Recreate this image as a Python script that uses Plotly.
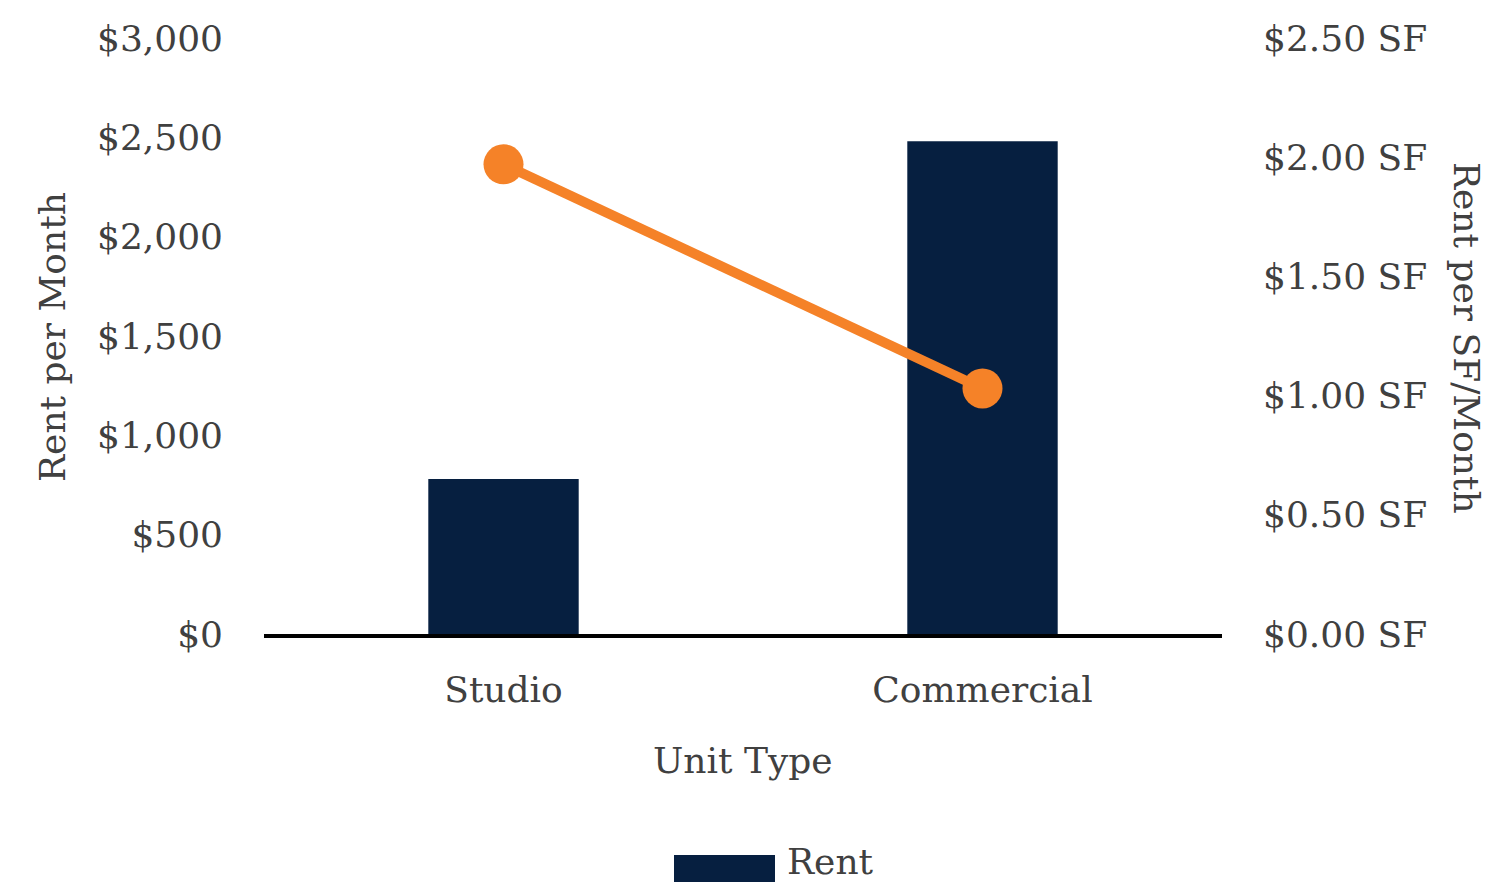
import plotly.graph_objects as go

# ---- data ----
unit_types = ["Studio", "Commercial"]
rent_per_month = [780, 2480]
rent_per_sf = [1.97, 1.03]

left_ticks = [0, 500, 1000, 1500, 2000, 2500, 3000]
left_tick_text = ["$0", "$500", "$1,000", "$1,500", "$2,000", "$2,500", "$3,000"]
right_ticks = [0, 0.5, 1.0, 1.5, 2.0, 2.5]
right_tick_text = ["$0.00 SF", "$0.50 SF", "$1.00 SF", "$1.50 SF", "$2.00 SF", "$2.50 SF"]

# ---- layout geometry (pixels) ----
W, H = 1512, 882
L, R, T, B = 264, 1222, 38, 634
PW, PH = R - L, B - T

def px_x(x):
    return (x - L) / PW

def px_y(y):
    return (B - y) / PH

FONT = "DejaVu Serif"
TXT = "#404040"
NAVY = "#061F40"
ORANGE = "#F58228"

fig = go.Figure()
fig.add_trace(go.Bar(
    x=unit_types, y=rent_per_month, name="Rent",
    marker=dict(color=NAVY, line=dict(width=0)),
    yaxis="y", showlegend=False,
))
fig.add_trace(go.Scatter(
    x=unit_types, y=rent_per_sf, name="Rent per SF",
    mode="lines+markers",
    line=dict(color=ORANGE, width=10),
    marker=dict(color=ORANGE, size=40),
    yaxis="y2", showlegend=False,
))

fig.update_layout(
    width=W, height=H,
    margin=dict(l=L, r=W - R, t=T, b=H - B, pad=0),
    paper_bgcolor="white", plot_bgcolor="white",
    font=dict(family=FONT, size=36, color=TXT),
    bargap=0.686,
    xaxis=dict(
        showgrid=False, zeroline=False,
        showline=True, linecolor="black", linewidth=4,
        ticks="", ticklabelstandoff=21,
        tickfont=dict(family=FONT, size=36, color=TXT),
    ),
    yaxis=dict(
        range=[0, 3000], tickvals=left_ticks, ticktext=left_tick_text,
        showgrid=False, zeroline=False, showline=False,
        ticks="", ticklabelstandoff=40,
        tickfont=dict(family=FONT, size=36, color=TXT),
    ),
    yaxis2=dict(
        range=[0, 2.5], tickvals=right_ticks, ticktext=right_tick_text,
        overlaying="y", side="right",
        showgrid=False, zeroline=False, showline=False,
        ticks="", ticklabelstandoff=40,
        tickfont=dict(family=FONT, size=36, color=TXT),
    ),
    showlegend=False,
)

annotations = [
    dict(text="Unit Type", x=0.5, y=px_y(760), xref="paper", yref="paper",
         xanchor="center", yanchor="middle", showarrow=False,
         font=dict(family=FONT, size=36, color=TXT)),
    dict(text="Rent per Month", x=px_x(52), y=px_y(337), xref="paper", yref="paper",
         xanchor="center", yanchor="middle", showarrow=False, textangle=-90,
         font=dict(family=FONT, size=36, color=TXT)),
    dict(text="Rent per SF/Month", x=px_x(1467), y=px_y(338), xref="paper", yref="paper",
         xanchor="center", yanchor="middle", showarrow=False, textangle=90,
         font=dict(family=FONT, size=36, color=TXT)),
    dict(text="Rent", x=px_x(785), y=px_y(861), xref="paper", yref="paper",
         xanchor="left", yanchor="middle", showarrow=False,
         font=dict(family=FONT, size=36, color=TXT)),
]
fig.update_layout(annotations=annotations)

fig.add_shape(type="rect", xref="paper", yref="paper",
              x0=px_x(674), x1=px_x(775), y0=px_y(855), y1=px_y(895),
              fillcolor=NAVY, line=dict(width=0), layer="above")

fig.write_html("out.html")
